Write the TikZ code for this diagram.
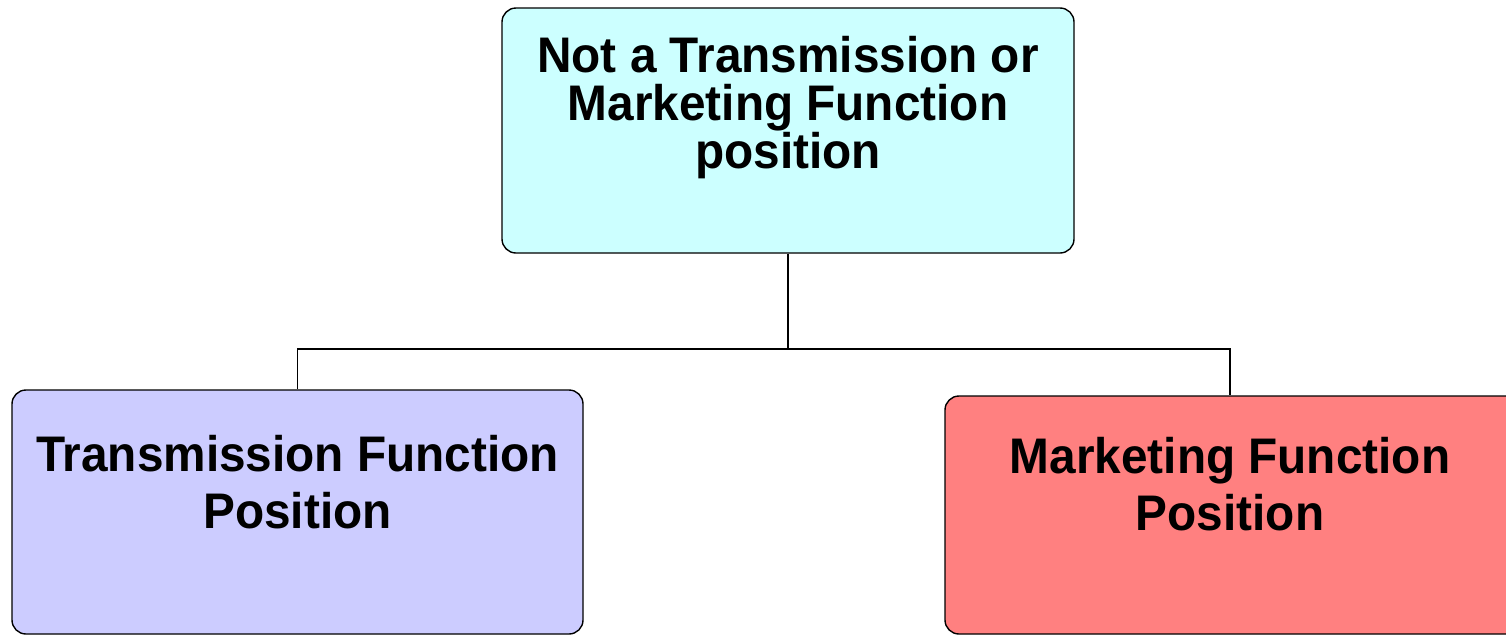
\documentclass[tikz,border=0pt]{standalone}
\usepackage{fontspec}
\setmainfont{Liberation Sans}[FakeStretch=0.955]
\definecolor{topfill}{HTML}{CCFFFF}
\definecolor{leftfill}{HTML}{CCCCFF}
\definecolor{rightfill}{HTML}{FF8080}
\begin{document}
\begin{tikzpicture}[x=1pt,y=-1pt,
  boxstyle/.style={draw=black, line width=1.4pt, rounded corners=14pt, inner sep=0pt},
  labelstyle/.style={align=center, inner sep=0pt, anchor=base, font=\bfseries\fontsize{50}{#1}\selectfont},
  wire/.style={draw=black, line width=1.4pt}]
\useasboundingbox (0,0) rectangle (1506,635);
\node[boxstyle, fill=topfill, minimum width=572pt, minimum height=245pt] (top) at (788,130.5) {};
\node[boxstyle, fill=leftfill, minimum width=571pt, minimum height=244pt] (left) at (297.5,512) {};
\node[boxstyle, fill=rightfill, minimum width=590pt, minimum height=238pt] (right) at (1240,515) {};
\node[labelstyle=48pt] (toptext) at (788,168) {Not a Transmission or\\Marketing Function\\position};
\node[labelstyle=57pt] (lefttext) at (297.5,528) {Transmission Function\\Position};
\node[labelstyle=57pt] (righttext) at (1230,530) {Marketing Function\\Position};
\coordinate (junction) at (788,349);
\draw[wire] (top.south) -- (junction);
\draw[wire] (left.north) |- (junction) -| ([xshift=-10pt]right.north);
\end{tikzpicture}
\end{document}
